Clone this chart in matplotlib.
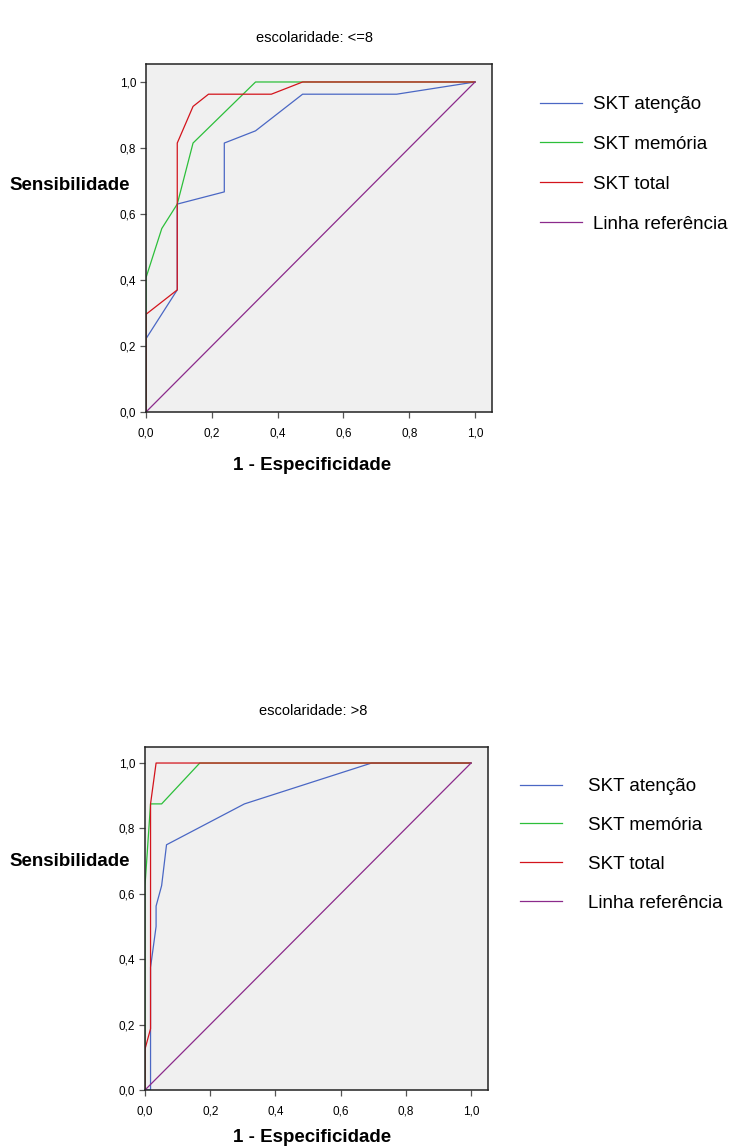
import matplotlib
matplotlib.use("Agg")
import matplotlib.pyplot as plt
from matplotlib.ticker import FuncFormatter

plt.rcParams['font.family'] = ['Liberation Sans', 'DejaVu Sans']

# ---------------- data ----------------
titles = ["escolaridade: <=8", "escolaridade: >8"]
series_names = ["SKT atenção", "SKT memória", "SKT total", "Linha referência"]
ticks = [0.0, 0.2, 0.4, 0.6, 0.8, 1.0]

# group <=8
g1_aten_x = [0.0, 0.0, 0.095, 0.095, 0.238, 0.238, 0.333, 0.476, 0.762, 1.0]
g1_aten_y = [0.0, 0.222, 0.370, 0.630, 0.667, 0.815, 0.852, 0.963, 0.963, 1.0]
g1_mem_x = [0.0, 0.0, 0.048, 0.095, 0.143, 0.333, 1.0]
g1_mem_y = [0.0, 0.407, 0.556, 0.630, 0.815, 1.0, 1.0]
g1_tot_x = [0.0, 0.0, 0.095, 0.095, 0.143, 0.190, 0.381, 0.476, 1.0]
g1_tot_y = [0.0, 0.296, 0.370, 0.815, 0.926, 0.963, 0.963, 1.0, 1.0]

# group >8
g2_aten_x = [0.0, 0.017, 0.017, 0.034, 0.034, 0.051, 0.066, 0.305, 0.695, 1.0]
g2_aten_y = [0.0, 0.0, 0.375, 0.500, 0.5625, 0.625, 0.750, 0.875, 1.0, 1.0]
g2_mem_x = [0.0, 0.0, 0.017, 0.051, 0.168, 1.0]
g2_mem_y = [0.0, 0.625, 0.875, 0.875, 1.0, 1.0]
g2_tot_x = [0.0, 0.0, 0.017, 0.017, 0.034, 1.0]
g2_tot_y = [0.0, 0.125, 0.1875, 0.875, 1.0, 1.0]

ref_x = [0.0, 1.0]
ref_y = [0.0, 1.0]

colors = ['#4a67c4', '#2cbf3a', '#d3141c', '#8b2a8b']

W, H = 729, 1148
fig = plt.figure(figsize=(W / 100, H / 100), dpi=100)

def px_axes(l, t, r, b):
    return [l / W, 1 - b / H, (r - l) / W, (b - t) / H]

panels = [
    dict(rect=(146, 64, 492, 412), xmax=1.0517, ymax=1.0545,
         data=[(g1_aten_x, g1_aten_y), (g1_mem_x, g1_mem_y), (g1_tot_x, g1_tot_y)],
         title_y=38, title_x=315, ylab_y=185, xlab_y=466,
         leg_x=540, leg_y=96, hl=2.24, htp=0.59, ls=1.21),
    dict(rect=(145, 747, 488, 1090), xmax=1.052, ymax=1.049,
         data=[(g2_aten_x, g2_aten_y), (g2_mem_x, g2_mem_y), (g2_tot_x, g2_tot_y)],
         title_y=711, title_x=313, ylab_y=862, xlab_y=1138,
         leg_x=520, leg_y=778, hl=2.24, htp=1.39, ls=1.16),
]

fmt = FuncFormatter(lambda v, p: f"{v:.1f}".replace('.', ','))

for i, p in enumerate(panels):
    ax = fig.add_axes(px_axes(*p['rect']))
    ax.set_facecolor('#f0f0f0')
    handles = []
    for (xs, ys), c, name in zip(p['data'], colors[:3], series_names[:3]):
        h, = ax.plot(xs, ys, color=c, lw=0.9, label=name)
        handles.append(h)
    h, = ax.plot(ref_x, ref_y, color=colors[3], lw=0.9, label=series_names[3])
    handles.append(h)
    ax.set_xlim(0, p['xmax'])
    ax.set_ylim(0, p['ymax'])
    ax.set_xticks(ticks)
    ax.set_yticks(ticks)
    ax.xaxis.set_major_formatter(fmt)
    ax.yaxis.set_major_formatter(fmt)
    ax.tick_params(direction='out', length=4, width=0.9, color='#555555',
                   labelsize=8.5, pad=3)
    ax.tick_params(axis='x', pad=7)
    for s in ax.spines.values():
        s.set_color('#222222')
        s.set_linewidth(1.1)
    fig.text(p['title_x'] / W, 1 - p['title_y'] / H, titles[i],
             ha='center', va='center', fontsize=10.5)
    fig.text(70 / W, 1 - p['ylab_y'] / H, "Sensibilidade",
             ha='center', va='center', fontsize=13.5, fontweight='bold')
    fig.text(312 / W, 1 - p['xlab_y'] / H, "1 - Especificidade",
             ha='center', va='center', fontsize=13.5, fontweight='bold')
    ax.legend(handles=handles, loc='upper left',
              bbox_to_anchor=(p['leg_x'] / W, 1 - p['leg_y'] / H),
              bbox_transform=fig.transFigure, frameon=False,
              fontsize=13.5, handlelength=p['hl'], handletextpad=p['htp'],
              labelspacing=p['ls'], borderpad=0, borderaxespad=0)

fig.savefig("out.png", dpi=100)
